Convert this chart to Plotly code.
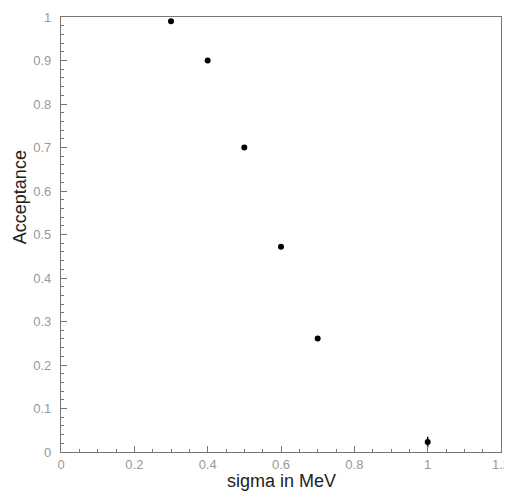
import plotly.graph_objects as go

sigma = [0.3, 0.4, 0.5, 0.6, 0.7, 1.0]
acceptance = [0.99, 0.90, 0.70, 0.472, 0.261, 0.023]
acc_err = [0, 0, 0, 0, 0, 0.012]

x_ticks = [0, 0.2, 0.4, 0.6, 0.8, 1.0, 1.2]
x_ticktext = ["0", "0.2", "0.4", "0.6", "0.8", "1", "1.2"]
y_ticks = [0, 0.1, 0.2, 0.3, 0.4, 0.5, 0.6, 0.7, 0.8, 0.9, 1.0]
y_ticktext = ["0", "0.1", "0.2", "0.3", "0.4", "0.5", "0.6", "0.7", "0.8", "0.9", "1"]

x_title = "sigma in MeV"
y_title = "Acceptance"

fig = go.Figure()
fig.add_trace(go.Scatter(
    x=sigma, y=acceptance, mode="markers",
    marker=dict(color="black", size=6, symbol="circle"),
    error_y=dict(type="data", array=acc_err, visible=True, color="black", thickness=1.5, width=0),
    showlegend=False, cliponaxis=False,
))

axis_common = dict(
    showgrid=False, zeroline=False, showline=True, linecolor="#777", linewidth=1.2,
    mirror=True, ticks="inside", tickcolor="#777", ticklen=6, tickwidth=1,
    automargin=False, ticklabeloverflow="allow",
    tickfont=dict(family="Liberation Sans, Arial, sans-serif", size=13, color="#999"),
)

fig.update_xaxes(range=[0, 1.2], tickmode="array", tickvals=x_ticks, ticktext=x_ticktext,
                 minor=dict(dtick=0.05, tick0=0, ticks="inside", ticklen=3, tickcolor="#777"),
                 **axis_common)
fig.update_yaxes(range=[0, 1], tickmode="array", tickvals=y_ticks, ticktext=y_ticktext,
                 ticklabelstandoff=6,
                 minor=dict(dtick=0.02, tick0=0, ticks="inside", ticklen=3, tickcolor="#777"),
                 **axis_common)

fig.add_annotation(text=x_title, xref="paper", yref="paper", x=0.5, y=-0.066,
                   yanchor="middle", xanchor="center", showarrow=False,
                   font=dict(family="Liberation Sans, Arial, sans-serif", size=18, color="#222"))
fig.add_annotation(text=y_title, xref="paper", yref="paper", x=-0.093, y=0.586,
                   xanchor="center", yanchor="middle", textangle=-90, showarrow=False,
                   font=dict(family="Liberation Sans, Arial, sans-serif", size=18, color="#222"))

# page body has an 8px margin, so the figure is sized to the remaining viewport
fig.update_layout(
    width=504, height=483,
    margin=dict(l=53, r=11, t=9, b=39),
    plot_bgcolor="white", paper_bgcolor="white",
)

fig.write_html("out.html")
